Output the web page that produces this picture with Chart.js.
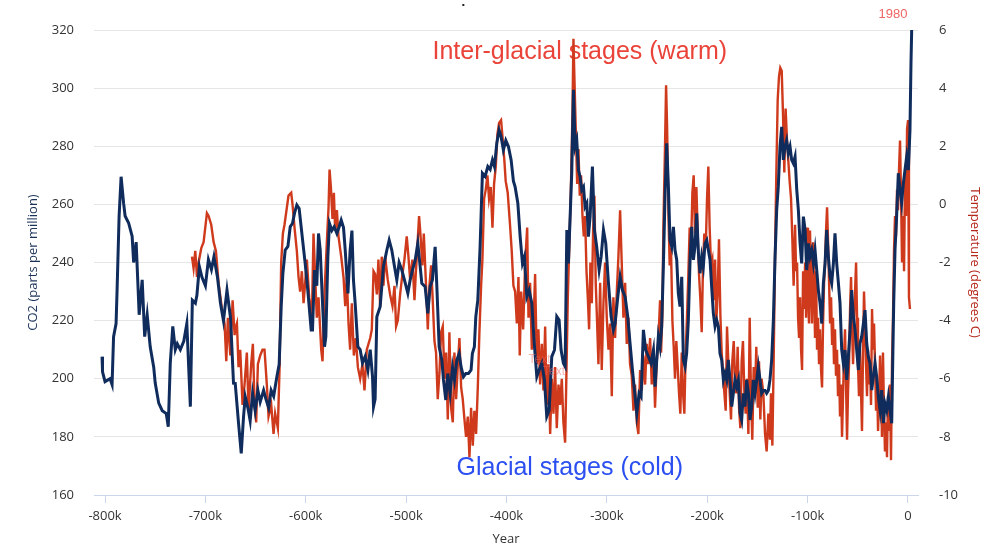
<!DOCTYPE html>
<html>
<head>
<meta charset="utf-8">
<title>CO2 and temperature, 800,000 years</title>
<script src="https://cdn.jsdelivr.net/npm/chart.js@4.4.1/dist/chart.umd.min.js"></script>
<style>
  html, body { margin: 0; padding: 0; background: #fff; }
  #wrap { width: 1003px; height: 548px; position: relative; }
</style>
</head>
<body>
<div id="wrap"><canvas id="climate"></canvas></div>
<script>
// x tick labels (thousands of years)
const yearTicks = [-800, -700, -600, -500, -400, -300, -200, -100, 0];

// CO2 (ppm), years in thousands
const co2Kyr = [
  -803, -802.5, -800, -795, -793, -791.5, -789, -788, -786, -784, -781.5, -780, -776.5, -773, -771.5, -769, -767, -766, -763, -760.5,
  -758, -755, -751.5, -750, -746.5, -743, -739, -737, -735, -732.5, -730, -728, -725, -721.5, -718.5, -715, -713, -710, -708.5, -706,
  -703.5, -700, -697, -694, -691.5, -688, -685, -682, -678.5, -675, -672,
  -670.3, -667, -664.3, -662, -660.3, -657.7, -655.4, -653, -650.4, -647.7, -645.4, -642, -639.7, -637, -634.5, -632, -628.8, -626.5,
  -624.5, -622.8, -620.5, -617.8, -615.5, -613.2, -611.2, -608.9, -606.6, -603.9, -600.6, -598, -594.6, -593.3, -591.3, -589, -587.3,
  -585.6, -583.3, -581.3, -580, -578, -576.4, -574, -571.7, -569, -566.7, -564.7, -562.4, -560.7, -558, -555.8, -554, -552.5, -550.8,
  -548.1, -545.8, -543.5, -540.8, -538.1, -535.8, -533.5, -532.5,
  -530.9, -529.2, -525.9, -522.6, -519.2, -516.9, -514.3, -511.6, -509.3, -507, -504.3, -501.7, -498.3, -496, -493.7, -491, -488.4,
  -486, -484.4, -481.1, -478.4, -476.1, -473.8, -471.1, -469.4, -467.1, -464.4, -462.8, -460.5, -458.5, -456.2, -453.8, -451.8, -449.5,
  -447.2, -445.2, -442.9, -440.5, -437.9, -435.3, -434, -432, -430.6, -428.6, -426.3, -424, -421.3, -418.6, -416.3, -414, -412, -409.7,
  -407.4, -405.4, -403.1, -400.7, -398.1, -395.4, -393.1,
  -391.4, -388.7, -386.4, -384.1, -382.1, -379.8, -377.5, -374.8, -372.1, -369.8, -367.5, -364.8, -362.2, -359.9, -357.5, -354.9,
  -352.2, -349.9, -347.6, -345.6, -343.3, -341.6, -339.9, -338.3, -336.6, -335, -333.3, -331.6, -330, -328.3, -326.7, -325, -323.3,
  -321.7, -320, -318.4, -316.7, -314.4, -312.4, -310.1, -307.7, -305.7, -303.4, -301.1, -298.4, -295.8, -293.5, -291.8, -289.1, -286.8,
  -284.5, -281.8, -279.2, -276.9, -274.5, -272.5, -270.2, -267.9, -265.9, -263.6, -261.3, -258.6, -256, -253.6,
  -252, -250.3, -248.7, -247, -245.4, -243.7, -242, -240.4, -238.7, -237.1, -235.4, -233.7, -232.1, -230.4, -228.8, -227.1, -225.4,
  -223.8, -222.1, -220.5, -218.8, -217.1, -215.5, -213.8, -212.2, -210.5, -208.8, -207.2, -205.5, -203.9, -202.2, -200.5, -198.9,
  -197.2, -195.6, -193.9, -192.2, -190.6, -188.9, -187.3, -185.6, -183.9, -182.3, -180.6, -179, -177.3, -175.6, -174, -172.3, -170.7,
  -169, -167.3, -165.7, -164, -162.4, -160.7, -159, -157.4, -155.7, -154.1, -152.4, -150.7, -149.1, -147.4, -145.8, -144.1, -142.4,
  -140.8, -139.1, -137.5, -135.8, -134.1, -132.5, -130.8, -129.2, -127.5, -125.8, -124.2, -122.5, -120.9, -119.2, -117.5, -115.9, -114.2,
  -112.5, -110.8, -109.2, -107.5, -105.9, -104.2, -102.5, -100.9, -99.2, -97.6, -95.9, -94.2, -92.6, -90.9, -89.3, -87.6, -85.9, -84.3,
  -82.6, -81, -79.3, -77.6, -76, -74.3, -72.7, -71, -69.3, -67.7, -66, -64.4, -62.7, -61, -59.4, -57.7, -56.1, -54.4, -52.7, -51.1,
  -49.4, -47.8, -46.1, -44.4, -42.8, -41.1, -39.5, -37.8, -36.1, -34.5, -32.8, -31.2, -29.5, -27.8, -26.2, -24.5, -22.9, -21.2, -19.5,
  -17.9, -16.2, -15.2, -14.2, -12.9, -11.3, -9.6, -7.9, -6.3, -4.6, -3, -1.3, 0.4, 2, 3, 3.7
];
const co2Ppm = [
  207.6, 202.4, 199, 200, 198, 214.5, 219, 230.5, 255.8, 269.5, 260.4, 256, 253.6, 249, 240, 247, 230.5, 222, 234, 214.5,
  222, 211, 204, 198.5, 191.6, 189, 188, 183.5, 205.4, 218, 210, 212, 210, 213, 219, 190.4, 227, 226, 228.6, 238.6,
  235, 232, 241, 237.6, 242, 235, 226, 220, 230.5, 221, 198.5,
  198.4, 184.7, 174.3, 187, 193.8, 190, 185.5, 195, 189, 196, 192, 196, 193, 190, 196, 194, 200.7, 205,
  224.8, 236.3, 244.3, 245.5, 252.3, 253.5, 257, 259.8, 258.6, 250, 239.7, 230.5, 216.8, 216.8, 237.4, 232, 250,
  244.3, 226, 211, 214.5, 242, 253.5, 251, 252.3, 250, 252.3, 254.6, 252, 244.3, 229.4, 244.3, 251, 234, 226,
  211, 210, 205.4, 207.7, 203, 210, 200.7, 190.4,
  193, 221.3, 224.8, 238.6, 244.3, 247.7, 244.3, 238.6, 234, 240, 237.4, 234, 229.4, 234, 237.4, 240.8, 246.6,
  238.6, 232.8, 231.7, 222.5, 231.7, 234, 245.4, 231.7, 211, 206.4, 199.6, 192.7, 201.8, 195, 204, 199.6, 206.4,
  208.7, 204, 200.7, 201.8, 201.8, 203, 208.7, 211, 221.3, 227, 245.4, 270.7, 269.6, 273, 272, 275.3, 273, 281,
  285.6, 283.3, 278.7, 282, 279.9, 275.3, 268,
  266, 260.4, 248.9, 239.7, 242, 228.2, 230.5, 226, 211, 200.7, 203, 205.3, 199.6, 187, 189.2, 207.6,
  209.9, 221.4, 220.2, 209.9, 205.3, 204.2, 251.2, 239.7, 255.8, 270.7, 299.4, 279.9, 282.1, 271.8, 269.5, 265, 266,
  259.2, 260.4, 248.9, 255.8, 273, 251.2, 245.4, 237.4, 242, 251.2, 246.6, 232.8, 221.4, 216.8, 219, 228.2, 235.1,
  230.5, 228.2, 221.4, 212.2, 203, 196.1, 188, 195, 193.8, 216.8, 209.9, 207.6, 205.3, 209.9,
  197.3, 206.5, 214.5, 211, 218, 238.6, 263.8, 281, 266.1, 247.7, 245.4, 252.3, 244.3, 240.9, 229.4, 224.8, 235.1,
  206.5, 204.2, 208.7, 220.2, 240.9, 252.3, 240.9, 245.5, 256.9, 243.2, 236.3, 242, 238.6, 246.6, 247.7, 244.3,
  240.9, 231.7, 222.5, 218, 220.2, 218, 208.7, 206.5, 199.6, 201.9, 199.6, 206.5, 199.6, 190.4, 195, 199.6, 197.3,
  199.6, 188.1, 185.8, 195, 190.4, 199.6, 195, 185.8, 190.4, 199.6, 195, 199.6, 204.2, 199.6, 195, 196, 196,
  195, 196, 199.6, 206.5, 220.2, 240.9, 258.1, 266.1, 279.9, 286.7, 275.3, 279.9, 282.1, 277.6, 279.9, 275.3, 274.1,
  276.4, 265, 258, 246.6, 239.7, 255.8, 251.2, 237.4, 246.6, 242, 244.3, 239.7, 244.3, 237.4, 230.5, 226, 219, 232.8,
  239.7, 251.2, 242, 235.1, 232.8, 239.7, 250, 239.7, 232.8, 226, 209.9, 205.3, 209.9, 199.6, 207.6, 216.8, 230.5, 221.4, 216.8, 209.9,
  203, 212.2, 214.5, 219, 223.6, 212.2, 207.6, 205.3, 196.1, 200.7, 205.3, 200.7, 193.8, 189.2, 196.1, 184.7, 191.5, 189.2, 193.8,
  189.2, 184.7, 205.3, 226, 244.3, 255.8, 270.7, 265, 260.4, 267.2, 271.8, 276.4, 271.8, 285.6, 308.5, 320
];

// Temperature anomaly (degrees C), years in thousands
const tempKyr = [
  -713.4, -711.8, -710.1, -708.4, -706.8, -704.1, -701.8, -698.5, -696.8, -694.2, -691.8, -689.5, -686.9, -683.5, -680.9, -679.2,
  -677.6, -675.2, -672.9, -670.9,
  -670.3, -668.6, -667, -665.3, -663, -661, -658.7, -657, -654.4, -652.7, -651, -649.4, -647.7, -645.4, -643.1, -641.1, -638.8,
  -637.1, -634.4, -632.1, -630.5, -627.8, -626.1, -624.5, -622.8, -621.2, -618.8, -617.2, -614.5, -613.2, -611.2, -608.9, -607.2,
  -605.6, -603.9, -602.2, -600.6, -598.9, -596.6, -593.9, -592.3, -590.6, -589, -587.3, -584.6, -583.3, -581.3, -579, -577.3, -576.3,
  -575, -573.4, -572, -570.7, -569, -567.4, -564.7, -562.4, -560.7, -559.1, -557.4, -555.8, -554.1, -552.1, -550.1, -548.1, -545.8,
  -543.5, -541.5, -539.2, -537.5, -535.8, -534.2, -532.5,
  -530.9, -529.2, -527.6, -525.9, -524.3, -522.6, -520.9, -518.3, -516, -513.6, -511.6, -510, -508.3, -506, -503.7, -501.7, -499.4,
  -497.7, -496, -493.7, -491.7, -490.4, -488.4, -487.1, -485.8, -483.8, -482.4, -480.4, -478.4, -476.8, -475.1, -473.5, -471.8,
  -470.2, -468.5, -466.8, -465.2, -463.5, -461.8, -460.2, -458.5, -456.9, -455.2, -453.5, -451.9, -450.2, -448.6, -446.9, -445.2,
  -443.6, -441.9, -440.3, -438.6, -436.9, -435.3, -433.6, -432, -430.3, -428.6, -427, -425.3, -424, -422.3, -420.7, -419, -417.4,
  -415.7, -414, -412.4, -410.7, -409.1, -407.4, -405.4, -403.7, -402.1, -400.8, -398.8, -396.5, -394.8, -393.1,
  -391.4, -389.7, -388.1, -386.8, -385.4, -383.4, -381.4, -379.4, -378.1, -376.5, -374.8, -373.1, -371.5, -369.8, -368.2, -366.5,
  -364.8, -363.2, -361.5, -359.9, -358.2, -356.5, -354.9, -353.2, -351.6, -349.9, -348.2, -346.6, -344.9, -343.3, -341.6, -340.6,
  -338.9, -337.6, -336, -334.3, -333.3, -332.3, -331, -329.6, -328.3, -327, -325.7, -324.3, -323, -321.7, -320.3, -319, -317.7,
  -316.4, -315, -313.7, -312.4, -311.1, -309.7, -308.4, -306.7, -305.1, -303.4, -301.8, -300.1, -298.4, -296.8, -295.1, -293.5,
  -291.8, -290.1, -288.5, -286.8, -285.2, -283.5, -281.8, -280.2, -278.5, -276.9, -275.2, -273.5, -271.9, -270.2, -268.6, -266.9,
  -265.2, -263.6, -261.9, -260.3, -258.6, -256.9, -255.3, -253.6,
  -252, -250.3, -248.7, -247, -246, -244.7, -243.7, -242, -241, -240, -238.7, -237.4, -236.1, -234.7, -233.4, -232.1, -230.8,
  -229.4, -228.1, -226.8, -225.4, -224.1, -222.8, -221.5, -220.1, -218.8, -217.5, -216.1, -214.8, -213.5, -212.2, -210.8, -209.5,
  -208.2, -206.8, -205.5, -204.2, -202.9, -201.5, -200.2, -198.9, -197.6, -196.2, -194.9, -193.6, -192.2, -190.9, -189.6, -188.3,
  -186.9, -185.6, -184.3, -182.9, -181.6, -180.3, -179, -177.6, -176.3, -175, -173.6, -172.3, -171, -169.7, -168.3, -167, -165.7,
  -164.4, -163, -161.7, -160.4, -159, -157.7, -156.4, -155.1, -153.7, -152.4, -151.1, -149.7, -148.4, -147.1, -145.8, -144.1, -142.4,
  -140.8, -139.1, -137.5, -136.5, -135.1, -133.8, -132.5, -131.2, -129.8, -128.5, -127.2, -125.8, -124.5, -123.2, -121.9, -120.5,
  -119.2, -117.9, -116.5, -115.2, -113.9,
  -112.5, -111.5, -110.5, -109.5, -108.5, -107.5, -106.5, -105.5, -104.5, -103.5, -102.5, -101.5, -100.5, -99.6, -98.6, -97.6,
  -96.6, -95.6, -94.6, -93.6, -92.6, -91.6, -90.6, -89.6, -88.6, -87.6, -86.6, -85.6, -84.6, -83.6, -82.6, -81.6, -80.6, -79.6,
  -78.6, -77.6, -76.6, -75.6, -74.7, -73.7, -72.7, -71.7, -70.7, -69.7, -68.7, -67.7, -66.7, -65.7, -64.7, -63.7, -62.7, -61.7,
  -60.7, -59.7, -58.7, -57.7, -56.7, -55.7, -54.7, -53.7, -52.7, -51.7, -50.7, -49.8, -48.8, -47.8, -46.8, -45.8, -44.8, -43.8,
  -42.8, -41.8, -40.8, -39.8, -38.8, -37.8, -36.8, -35.8, -34.8, -33.8, -32.8, -31.8, -30.8, -29.8, -28.8, -27.8, -26.8, -25.9,
  -24.9, -23.9, -22.9, -21.9, -20.9, -19.9, -18.9, -17.9, -16.9, -15.9, -14.9, -13.9, -12.9, -11.9, -10.9, -9.9, -8.9, -7.9, -6.9,
  -5.9, -4.9, -3.9, -2.9, -1.9, -0.9, 0.1, 1, 2
];
const tempC = [
  -1.8, -2.2, -1.6, -2.5, -2.0, -1.5, -1.3, -0.3, -0.4, -0.7, -1.3, -1.6, -2.7, -3.6, -4.1, -5.4,
  -3.9, -5.2, -3.3, -4.5,
  -4.3, -4.1, -5.6, -5.0, -6.9, -6.2, -5.1, -7.1, -5.5, -4.8, -6.9, -7.5, -5.5, -5.2, -5.0, -5.0, -6.2,
  -7.3, -6.9, -7.9, -7.2, -7.7, -5.6, -2.0, -1.0, -0.7, -0.1, 0.3, 0.4, 0.0, -0.8, -1.6, -2.5,
  -3.0, -2.3, -3.4, -2.7, -1.9, -3.2, -3.9, -1.0, -2.5, -3.9, -3.2, -5.0, -5.4, -3.0, -1.3, -0.1, 1.2,
  0.6, -0.5, 0.4, -0.9, -0.2, -1.1, -1.8, -2.5, -3.5, -2.5, -4.1, -5.0, -3.4, -5.2, -4.6, -5.6, -6.0,
  -5.5, -6.4, -5.0, -4.8, -4.6, -4.3, -2.3,
  -2.4, -3.1, -1.9, -3.5, -1.8, -2.8, -1.8, -2.6, -3.1, -3.5, -2.8, -4.2, -4.0, -3.1, -2.4, -1.9, -1.1,
  -1.8, -2.6, -1.9, -3.3, -2.4, -1.2, -0.4, -1.0, -2.1, -1.0, -2.6, -4.3, -2.8, -2.1, -3.3, -4.7,
  -5.1, -6.7, -5.8, -4.4, -4.2, -6.0, -5.1, -7.4, -4.4, -7.0, -7.5, -5.1, -6.7, -5.6, -4.6, -6.3,
  -6.7, -7.4, -8.0, -7.3, -8.7, -7.0, -8.3, -7.1, -7.9, -6.3, -4.4, -2.8, -1.9, 0.2, 0.5, 1.0, 0.2,
  0.6, -0.8, 0.7, 1.3, 2.4, 2.8, 2.9, 2.2, 1.5, 0.8, 0.4, -0.7, -1.6, -2.8,
  -3.0, -4.1, -2.5, -5.2, -3.0, -4.3, -2.0, -0.8, -3.9, -2.7, -5.0, -4.1, -2.4, -5.5, -4.3, -6.2,
  -4.8, -6.4, -4.2, -6.9, -5.5, -7.9, -6.0, -7.2, -5.6, -7.7, -6.2, -6.9, -6.0, -7.5, -8.2, -6.4,
  -3.2, -1.6, 0.3, 3.1, 5.7, 4.3, 2.6, 0.7, 1.9, 0.3, 1.0, -0.4, -1.1, -0.4, -2.3, -3.2, -4.3,
  -2.0, -3.4, -0.9, 0.3, -2.7, -4.1, -5.5, -2.7, -5.7, -3.4, -2.0, -3.9, -5.0, -4.1, -6.6, -3.2,
  -4.6, -3.0, -1.8, -0.2, -2.0, -3.9, -2.7, -4.8, -3.9, -5.5, -5.9, -7.1, -6.2, -7.5, -7.9, -5.7,
  -6.4, -5.2, -6.2, -4.8, -5.5, -4.6, -6.2, -5.0,
  -7.0, -5.4, -4.7, -3.3, -5.1, -3.8, -0.8, 2.1, 4.1, 2.7, -0.3, -2.1, -1.5, -4.0, -4.9, -6.0, -4.7,
  -5.6, -6.5, -7.2, -5.1, -6.5, -7.2, -5.1, -3.8, -2.4, -0.8, -1.5, 0.4, 1.0, -1.0, 0.6, -1.0,
  -2.4, -3.3, -4.4, -2.1, -1.0, -1.5, 0.2, 1.3, -0.8, -2.1, -1.9, -3.3, -1.9, -4.0, -3.1, -1.2,
  -3.8, -5.1, -5.8, -6.5, -7.1, -4.2, -5.4, -6.5, -7.4, -5.4, -4.7, -6.0, -6.5, -4.9, -7.0, -7.7, -5.4,
  -4.7, -6.5, -7.2, -6.0, -7.9, -3.9, -6.5, -8.1, -5.6, -6.5, -4.9, -7.0, -5.4, -7.4, -6.0, -6.5, -7.9,
  -8.5, -7.2, -8.1, -6.5, -8.3, -5.4, -1.9, 1.0, 3.6, 4.4, 4.7, 4.6, 3.1, 1.1, 3.3, 2.2,
  1.5, 0.8, 0.2, -1.2, -2.8,
  -0.7, -2.3, -2.0, -3.9, -4.6, -3.2, -5.0, -5.7, -2.3, -3.6, -2.0, -3.9, -0.8, -3.0, -4.1, -0.9,
  -2.7, -4.1, -1.3, -2.7, -4.6, -2.3, -5.0, -3.9, -5.5, -4.3, -5.7, -6.3, -4.1, -2.7, -2.0, -0.9, -0.1, -1.3,
  -2.7, -4.1, -3.2, -4.8, -3.9, -5.5, -4.3, -5.9, -5.0, -6.6, -5.5, -7.3, -6.2, -8.0, -6.6, -5.2, -4.3, -6.2,
  -8.1, -6.4, -5.5, -3.6, -2.5, -4.3, -5.5, -4.1, -3.0, -2.0, -3.9, -5.5, -6.6, -5.0, -6.4, -7.8, -5.2, -3.0,
  -4.1, -5.5, -6.6, -5.0, -6.2, -5.5, -6.9, -3.6, -5.0, -4.1, -5.5, -7.1, -6.2, -7.8, -6.6, -5.2, -6.4, -8.0,
  -5.1, -7.1, -8.5, -7.5, -8.7, -6.6, -7.8, -6.2, -8.8, -5.5, -3.9, -1.6, -0.4, -1.1, 0.5, -0.2, 1.2, 2.2, 0.3,
  -2.0, -0.4, -2.3, 1.0, -0.4, 2.6, 2.9, -3.2, -3.6
];

const GRID = '#e6e6e6';
const AXIS = '#ccd6eb';
const TICK_FONT = { family: '"Open Sans", "DejaVu Sans", sans-serif', size: 13 };

// stage labels sit under the lines, like in the original
const notes = {
  id: 'notes',
  beforeDatasetsDraw(chart) {
    const { ctx, scales } = chart;
    const x = scales.x, y = scales.co2;
    ctx.save();
    ctx.textAlign = 'center';
    ctx.textBaseline = 'middle';
    ctx.font = '25px "Liberation Sans", Arial, sans-serif';
    ctx.fillStyle = '#ea4339';
    ctx.fillText('Inter-glacial stages (warm)', x.getPixelForValue(-327), y.getPixelForValue(312.4));
    ctx.fillStyle = '#2b4ff0';
    ctx.fillText('Glacial stages (cold)', x.getPixelForValue(-337), y.getPixelForValue(169.3));
    ctx.font = '13px "Liberation Sans", Arial, sans-serif';
    ctx.fillStyle = '#f06464';
    ctx.fillText('1980', x.getPixelForValue(-15), y.getPixelForValue(325.3));
    ctx.fillStyle = '#222';
    ctx.fillRect(x.getPixelForValue(-444), 4, 2, 2);
    ctx.restore();
  },
  afterDatasetsDraw(chart) {
    const { ctx, scales } = chart;
    const x = scales.x, y = scales.co2;
    ctx.save();
    ctx.textAlign = 'center';
    ctx.textBaseline = 'middle';
    ctx.globalAlpha = 0.5;
    ctx.fillStyle = '#f06464';
    ctx.font = '12px "Liberation Sans", Arial, sans-serif';
    ctx.fillText('Text', x.getPixelForValue(-367), y.getPixelForValue(206.4));
    ctx.fillText('Text', x.getPixelForValue(-352.7), y.getPixelForValue(202.3));
    ctx.restore();
  }
};

new Chart(document.getElementById('climate'), {
  type: 'line',
  data: {
    datasets: [
      {
        label: 'CO2',
        data: co2Kyr.map((k, i) => ({ x: k, y: co2Ppm[i] })),
        yAxisID: 'co2',
        borderColor: '#0f2c5c',
        borderWidth: 3,
        pointRadius: 0,
        tension: 0,
        order: 0
      },
      {
        label: 'Temperature',
        data: tempKyr.map((k, i) => ({ x: k, y: tempC[i] })),
        yAxisID: 'temp',
        borderColor: '#cf3a1c',
        borderWidth: 2.4,
        pointRadius: 0,
        tension: 0,
        order: 1
      }
    ]
  },
  options: {
    responsive: true,
    maintainAspectRatio: false,
    animation: false,
    layout: { padding: { top: 30, left: 0, right: 0, bottom: 0 } },
    plugins: { legend: { display: false }, tooltip: { enabled: false } },
    scales: {
      x: {
        type: 'linear',
        min: -811,
        max: 10,
        afterBuildTicks: (axis) => { axis.ticks = yearTicks.map(v => ({ value: v })); },
        afterFit: (scale) => { scale.height = 53; },
        ticks: {
          color: '#333',
          font: TICK_FONT,
          padding: 5,
          maxRotation: 0,
          callback: (v) => (v === 0 ? '0' : v + 'k')
        },
        grid: { drawOnChartArea: false, drawTicks: true, tickLength: 8, color: AXIS },
        border: { display: true, color: AXIS, width: 1 },
        title: {
          display: true,
          text: 'Year',
          color: '#333',
          font: TICK_FONT,
          padding: { top: 0, bottom: 1 }
        }
      },
      co2: {
        position: 'left',
        min: 160,
        max: 320,
        afterFit: (scale) => { scale.width = 94; },
        ticks: { stepSize: 20, color: '#333', font: TICK_FONT, padding: 20 },
        grid: { color: GRID, drawTicks: false },
        border: { display: false },
        title: {
          display: true,
          text: 'CO2 (parts per million)',
          color: '#1b3358',
          font: TICK_FONT,
          padding: { top: 25, bottom: 0 }
        }
      },
      temp: {
        position: 'right',
        min: -10,
        max: 6,
        afterFit: (scale) => { scale.width = 85; },
        ticks: { stepSize: 2, color: '#333', font: TICK_FONT, padding: 21 },
        grid: { drawOnChartArea: false, drawTicks: false },
        border: { display: false },
        title: {
          display: true,
          text: 'Temperature (degrees C)',
          color: '#b5281c',
          font: TICK_FONT,
          padding: { top: 20, bottom: 0 }
        }
      }
    }
  },
  plugins: [notes]
});
</script>
</body>
</html>
